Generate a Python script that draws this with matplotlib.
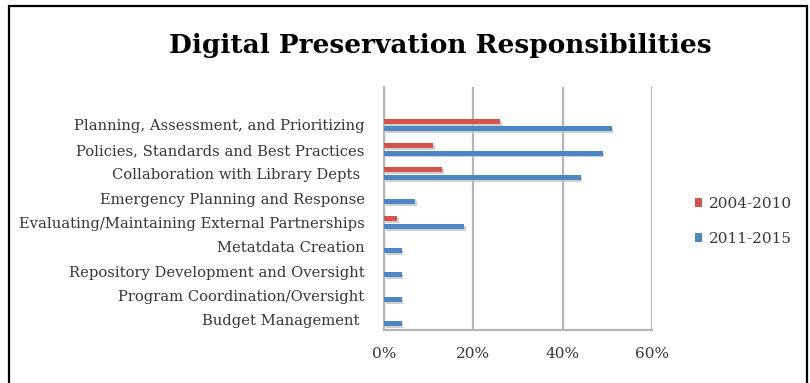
import numpy as np
import matplotlib.pyplot as plt
from matplotlib.patches import Rectangle

# Categories listed bottom to top
categories = [
    "Budget Management ",
    "Program Coordination/Oversight",
    "Repository Development and Oversight",
    "Metatdata Creation",
    "Evaluating/Maintaining External Partnerships",
    "Emergency Planning and Response",
    "Collaboration with Library Depts ",
    "Policies, Standards and Best Practices",
    "Planning, Assessment, and Prioritizing",
]
early = [0, 0, 0, 0, 3, 0, 13, 11, 26]      # 2004-2010 (%)
late = [4, 4, 4, 4, 18, 7, 44, 49, 51]      # 2011-2015 (%)
series_names = ["2004-2010", "2011-2015"]
xticks = [0, 20, 40, 60]

W, H = 810, 383
fig = plt.figure(figsize=(W / 100, H / 100), dpi=100)
serif = "DejaVu Serif"
grey_txt = "#363636"

# outer frame
fig.patches.append(Rectangle((9 / W, -0.05), (807 - 9) / W, (H - 6) / H + 0.05,
                             transform=fig.transFigure, fill=False,
                             edgecolor="black", linewidth=1.6))

ax = fig.add_axes([384 / W, (H - 330) / H, (652 - 384) / W, (330 - 87) / H])
y = np.arange(len(categories))
h = 0.2
off = 0.155
red, blue = "#D4534F", "#4E86C4"

# soft drop shadow under each bar
for vals, dy in ((early, off), (late, -off)):
    ax.barh(y + dy - 0.08, vals, height=h, left=0.35, color="#c4c4c4",
            alpha=0.8, zorder=2)
ax.barh(y + off, early, height=h, color=red, zorder=3, label=series_names[0])
ax.barh(y - off, late, height=h, color=blue, zorder=3, label=series_names[1])

ax.set_xlim(0, 60)
ax.set_ylim(-0.42, 9.56)
ax.set_xticks(xticks)
ax.set_xticklabels([f"{t}%" for t in xticks], fontfamily=serif, fontsize=11,
                   color=grey_txt)
ax.set_yticks(y)
ax.set_yticklabels(categories, fontfamily=serif, fontsize=10.6, color=grey_txt)
ax.tick_params(length=0, pad=14, axis="y")
ax.tick_params(length=0, pad=12, axis="x")
ax.xaxis.grid(True, color="#b5b5b5", linewidth=1.6, zorder=0)
for s in ("top", "right"):
    ax.spines[s].set_visible(False)
for s in ("left", "bottom"):
    ax.spines[s].set_color("#b5b5b5")
    ax.spines[s].set_linewidth(1.6)

fig.text(440 / W, 1 - 46 / H, "Digital Preservation Responsibilities",
         ha="center", va="center", fontfamily=serif, fontweight="bold",
         fontsize=19, color="black")

leg = fig.legend(loc="upper left", bbox_to_anchor=(681 / W, 1 - 183 / H),
                 frameon=False, prop={"family": serif, "size": 11},
                 handlelength=0.5, handleheight=0.5, handletextpad=0.4,
                 labelspacing=1.4, labelcolor=grey_txt)

fig.savefig("out.png", dpi=100)
